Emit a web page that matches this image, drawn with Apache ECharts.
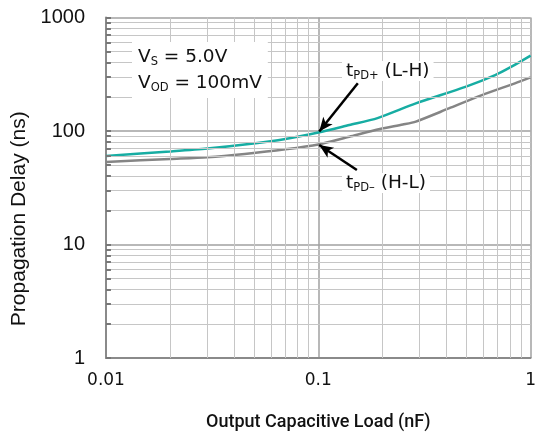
<!DOCTYPE html>
<html>
<head>
<meta charset="utf-8">
<script src="https://cdn.jsdelivr.net/npm/echarts@6/dist/echarts.min.js"></script>
<style>html,body{margin:0;padding:0;background:#fff}#c{width:539px;height:436px}</style>
</head>
<body>
<div id="c"></div>
<script>
// Data
const loadNF = [0.01, 0.02, 0.03, 0.045, 0.07, 0.1, 0.14, 0.19, 0.288, 0.493, 0.681, 0.813, 1];
const tpdPlus = [60.2, 66, 70, 76, 85, 97, 113, 130, 175, 245, 311, 369, 462];
const loadNF2 = [0.01, 0.02, 0.03, 0.045, 0.07, 0.1, 0.14, 0.195, 0.25, 0.288, 0.412, 0.59, 0.843, 1];
const tpdMinus = [53.3, 56.7, 58.8, 62.8, 68.9, 76, 89, 104, 114, 121, 158, 207, 263, 297];
const xMinor = [0.02,0.03,0.04,0.05,0.06,0.07,0.08,0.09,0.2,0.3,0.4,0.5,0.6,0.7,0.8,0.9];
const yMinor = [2,3,4,5,6,7,8,9,20,30,40,50,60,70,80,90,200,300,400,500,600,700,800,900];
const xTicks = ['0.01','0.1','1'];
const yTicks = ['1','10','100','1000'];

const chart = echarts.init(document.getElementById('c'), null, {renderer:'canvas'});
const F = 'Roboto, "Noto Sans", sans-serif';
const FW = '"DejaVu Sans", sans-serif';
const FA = '"Liberation Sans", Arial, sans-serif';
const gridColor = '#c6c6c6';
const majorColor = '#a0a0a0';
const tickEnd = 0.01055;

const fmt = (arr) => (v) => {
  const lv = Math.round(Math.log10(v));
  const s = arr.find(t => Math.round(Math.log10(parseFloat(t))) === lv);
  return s || '';
};

const subStyle = {fontFamily:FW, fontSize:11.5, fill:'#111', padding:[10,0,0,0]};

chart.setOption({
  animation:false,
  grid:{left:106, right:3, top:17.5, bottom:78, containLabel:false},
  xAxis:{
    type:'log', logBase:10, min:0.01, max:1,
    name:'Output Capacitive Load (nF)', nameLocation:'middle', nameGap:55,
    nameTextStyle:{fontFamily:F, fontSize:18, fontWeight:500, color:'#111'},
    axisLine:{show:true, lineStyle:{color:'#8a8a8a', width:2}},
    axisTick:{show:false},
    axisLabel:{fontFamily:FW, fontSize:17, color:'#111', margin:14, formatter:fmt(xTicks)},
    splitLine:{show:true, lineStyle:{color:majorColor, width:1.5}}
  },
  yAxis:{
    type:'log', logBase:10, min:1, max:1000,
    name:'Propagation Delay (ns)', nameLocation:'middle', nameGap:73,
    nameTextStyle:{fontFamily:FA, fontSize:21, color:'#111', padding:[0,62,0,0]},
    axisLine:{show:true, lineStyle:{color:'#8a8a8a', width:2}},
    axisTick:{show:true, inside:true, length:5, lineStyle:{color:'#777', width:2}},
    axisLabel:{fontFamily:FA, fontSize:20, color:'#111', margin:21, formatter:fmt(yTicks)},
    splitLine:{show:true, lineStyle:{color:majorColor, width:1.5}}
  },
  series:[
    {
      type:'line', data:[], z:1, silent:true,
      markLine:{
        silent:true, symbol:['none','none'], animation:false,
        label:{show:false},
        lineStyle:{color:gridColor, width:1, type:'solid'},
        emphasis:{disabled:true},
        data:[
          ...xMinor.map(v=>({xAxis:v})),
          ...yMinor.map(v=>({yAxis:v})),
          ...yMinor.map(v=>[{coord:[0.01,v], lineStyle:{color:'#777', width:2}},{coord:[tickEnd,v]}])
        ]
      }
    },
    {
      name:'tPD-', type:'line', z:3, smooth:0.25, symbol:'none',
      lineStyle:{color:'#858585', width:2.5},
      data: loadNF2.map((x,i)=>[x, tpdMinus[i]])
    },
    {
      name:'tPD+', type:'line', z:4, smooth:0.25, symbol:'none',
      lineStyle:{color:'#17ada3', width:2.5},
      data: loadNF.map((x,i)=>[x, tpdPlus[i]]),
      markLine:{
        silent:true, symbol:['none','arrow'], symbolSize:[9,14], animation:false,
        label:{show:false},
        lineStyle:{color:'#000', width:2.5, type:'solid'},
        data:[
          [{coord:[0.1535,263]},{coord:[0.101,99]}],
          [{coord:[0.152,45.3]},{coord:[0.101,75.3]}]
        ]
      }
    }
  ],
  graphic:[
    {type:'text', left:132, top:42, z:10,
     style:{
       text:'V{sub|S} = 5.0V\nV{sub|OD} = 100mV',
       fontFamily:FW, fontSize:18.5, fill:'#111', lineHeight:26,
       backgroundColor:'#fff', padding:[2,6,2,6],
       rich:{sub:Object.assign({lineHeight:26}, subStyle)}
     }},
    {type:'text', left:342, top:60, z:10,
     style:{
       text:'t{sub|PD+} (L-H)',
       fontFamily:FW, fontSize:18.5, fill:'#111', lineHeight:20,
       backgroundColor:'#fff', padding:[0,4,0,4],
       rich:{sub:Object.assign({lineHeight:20}, subStyle)}
     }},
    {type:'text', left:342, top:172, z:10,
     style:{
       text:'t{sub|PD\u2013} (H-L)',
       fontFamily:FW, fontSize:18.5, fill:'#111', lineHeight:20,
       backgroundColor:'#fff', padding:[0,4,0,4],
       rich:{sub:Object.assign({lineHeight:20}, subStyle)}
     }}
  ]
});
</script>
</body>
</html>
